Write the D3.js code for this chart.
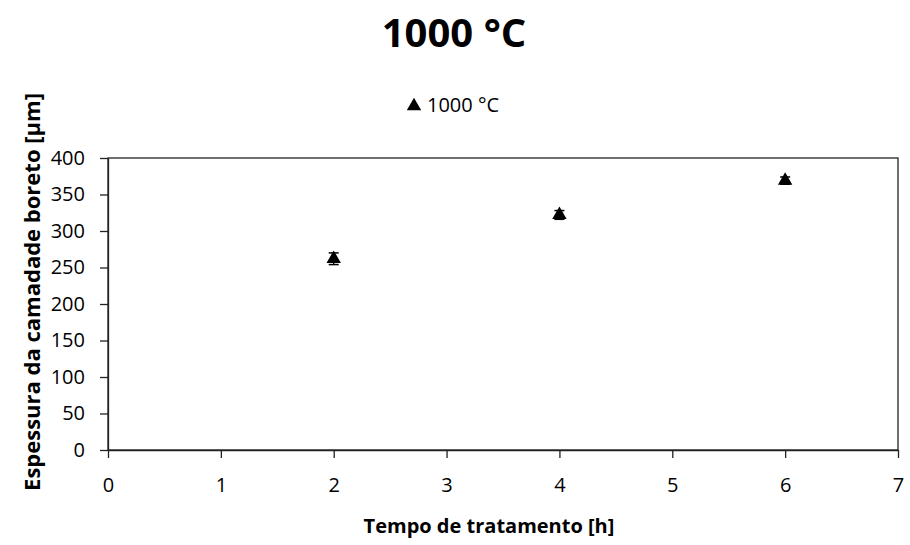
<!DOCTYPE html>
<html>
<head>
<meta charset="utf-8">
<script src="https://cdn.jsdelivr.net/npm/d3@7"></script>
<style>
  body { margin: 0; background: #fff; }
  text { font-family: "Open Sans", "DejaVu Sans", sans-serif; fill: #000; }
</style>
</head>
<body>
<div id="chart"></div>
<script>
var svgWidth = 910;
var svgHeight = 545;

var chartMargin = { top: 158, right: 12, bottom: 95, left: 108 };
var chartWidth = svgWidth - chartMargin.left - chartMargin.right;
var chartHeight = svgHeight - chartMargin.top - chartMargin.bottom;

// data
var hours = [2, 4, 6];
var thickness = [262, 322, 369];
var errors = [8, 6, 5];
var xTicks = [0, 1, 2, 3, 4, 5, 6, 7];
var yTicks = [0, 50, 100, 150, 200, 250, 300, 350, 400];
var seriesName = "1000 °C";

var svg = d3.select("#chart").append("svg")
    .attr("width", svgWidth)
    .attr("height", svgHeight);

var chartGroup = svg.append("g")
    .attr("transform", `translate(${chartMargin.left}, ${chartMargin.top})`);

var xScale = d3.scaleLinear().domain([0, 7]).range([0, chartWidth]);
var yScale = d3.scaleLinear().domain([0, 400]).range([chartHeight, 0]);

// frame
chartGroup.append("rect")
    .attr("width", chartWidth)
    .attr("height", chartHeight)
    .attr("fill", "none")
    .attr("stroke", "#222")
    .attr("stroke-width", 1.3);

var xAxis = chartGroup.append("g")
    .attr("transform", `translate(0, ${chartHeight})`)
    .call(d3.axisBottom(xScale).tickValues(xTicks).tickFormat(d3.format("d"))
        .tickSize(8).tickPadding(20).tickSizeOuter(0));

var yAxis = chartGroup.append("g")
    .call(d3.axisLeft(yScale).tickValues(yTicks).tickFormat(d3.format("d"))
        .tickSize(8).tickPadding(15).tickSizeOuter(0));

[xAxis, yAxis].forEach(function(ax) {
    ax.select(".domain").attr("stroke", "#222").attr("stroke-width", 1.3);
    ax.selectAll(".tick line").attr("stroke", "#222").attr("stroke-width", 1.3);
    ax.selectAll(".tick text").attr("font-size", "20px").attr("fill", "#000")
      .style("font-family", "'Open Sans', sans-serif");
});

// error bars
var points = hours.map(function(h, i) { return { h: h, v: thickness[i], e: errors[i] }; });

var errGroup = chartGroup.selectAll(".err")
    .data(points)
    .enter()
    .append("g");

errGroup.append("line")
    .attr("x1", d => xScale(d.h)).attr("x2", d => xScale(d.h))
    .attr("y1", d => yScale(d.v + d.e)).attr("y2", d => yScale(d.v - d.e))
    .attr("stroke", "#000").attr("stroke-width", 1.3);
errGroup.append("line")
    .attr("x1", d => xScale(d.h) - 5).attr("x2", d => xScale(d.h) + 5)
    .attr("y1", d => yScale(d.v + d.e)).attr("y2", d => yScale(d.v + d.e))
    .attr("stroke", "#000").attr("stroke-width", 1.5);
errGroup.append("line")
    .attr("x1", d => xScale(d.h) - 5).attr("x2", d => xScale(d.h) + 5)
    .attr("y1", d => yScale(d.v - d.e)).attr("y2", d => yScale(d.v - d.e))
    .attr("stroke", "#000").attr("stroke-width", 1.5);

var tri = d3.symbol().type(d3.symbolTriangle).size(90);

chartGroup.selectAll(".pt")
    .data(points)
    .enter()
    .append("path")
    .attr("d", tri)
    .attr("transform", d => `translate(${xScale(d.h)}, ${yScale(d.v)})`)
    .attr("fill", "#000");

// title
svg.append("text")
    .attr("x", 454)
    .attr("y", 47)
    .attr("text-anchor", "middle")
    .attr("font-size", "40px")
    .attr("font-weight", "bold")
    .text(seriesName);

// legend
svg.append("path")
    .attr("d", d3.symbol().type(d3.symbolTriangle).size(90))
    .attr("transform", "translate(414, 106)")
    .attr("fill", "#000");
svg.append("text")
    .attr("x", 427)
    .attr("y", 112)
    .attr("font-size", "20px")
    .text(seriesName);

// axis titles
svg.append("text")
    .attr("x", 489)
    .attr("y", 533)
    .attr("text-anchor", "middle")
    .attr("font-size", "20px")
    .attr("font-weight", "bold")
    .text("Tempo de tratamento [h]");

svg.append("text")
    .attr("transform", "rotate(-90)")
    .attr("x", -292)
    .attr("y", 40)
    .attr("text-anchor", "middle")
    .attr("font-size", "22px")
    .attr("font-weight", "bold")
    .text("Espessura da camadade boreto [µm]");
</script>
</body>
</html>
